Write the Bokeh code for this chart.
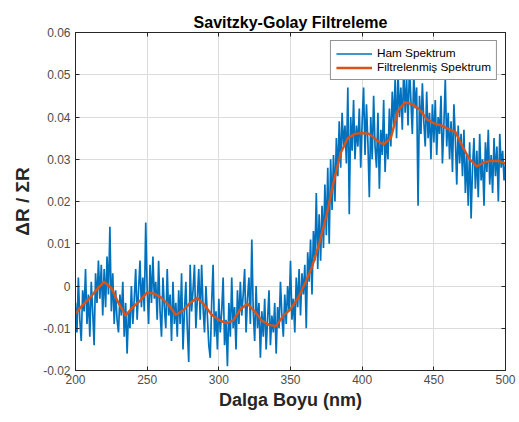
import numpy as np
from bokeh.plotting import figure
from bokeh.models import (ColumnDataSource, FixedTicker, CustomJSTickFormatter,
                          LinearAxis, Range1d, Legend, LegendItem)
from bokeh.embed import file_html
from bokeh.resources import INLINE

# ---- data ----
wavelength_raw = list(range(200, 501))  # nm, 1 nm step
raw_spectrum = [
    -0.004, -0.011, 0.002, -0.008, -0.013, -0.001, -0.006, 0.004, -0.009, -0.002,
    -0.012, 0.001, -0.006, -0.014, 0.003, -0.004, 0.006, -0.003, 0.005, -0.007,
    0.004, -0.005, 0.007, -0.002, 0.014, -0.006, 0.003, -0.009, -0.001, -0.008,
    -0.011, -0.002, -0.007, 0.001, -0.012, -0.004, -0.016, -0.006, -0.010, 0.000,
    -0.009, -0.003, 0.004, -0.008, -0.001, 0.006, -0.005, 0.002, -0.006, 0.015,
    -0.001, -0.009, 0.005, -0.004, 0.007, -0.003, 0.001, -0.008, 0.006, -0.006,
    -0.012, 0.002, -0.005, -0.010, 0.004, -0.007, -0.002, -0.013, 0.001, -0.009,
    -0.004, -0.012, -0.001, -0.009, 0.003, -0.015, -0.006, 0.001, -0.010, -0.018,
    0.005, -0.006, -0.001, 0.005, -0.010, -0.003, 0.004, -0.008, 0.005, -0.005,
    -0.011, 0.000, -0.007, -0.014, -0.017, -0.004, 0.005, -0.012, -0.006, -0.015,
    -0.003, -0.011, -0.006, 0.002, -0.014, -0.008, -0.019, -0.004, -0.012, 0.002,
    -0.010, -0.005, -0.015, -0.001, -0.009, 0.001, -0.007, -0.002, 0.004, -0.011,
    -0.003, 0.002, -0.009, 0.011, -0.006, -0.013, 0.000, -0.010, -0.004, -0.017,
    -0.006, -0.012, -0.003, -0.015, -0.008, -0.001, -0.014, -0.007, -0.011, -0.004,
    -0.016, -0.005, -0.010, 0.001, -0.007, -0.012, -0.002, -0.009, 0.000, -0.006,
    0.006, -0.008, -0.003, -0.011, 0.002, -0.005, 0.004, -0.007, 0.003, -0.002,
    0.005, -0.010, 0.008, 0.001, 0.011, -0.002, 0.013, 0.006, 0.022, 0.004,
    0.017, 0.006, 0.019, 0.009, 0.024, 0.012, 0.028, 0.010, 0.030, 0.018,
    0.031, 0.020, 0.035, 0.026, 0.039, 0.028, 0.041, 0.033, 0.038, 0.029,
    0.047, 0.017, 0.040, 0.032, 0.044, 0.030, 0.038, 0.033, 0.042, 0.028,
    0.039, 0.047, 0.031, 0.043, 0.034, 0.021, 0.040, 0.030, 0.045, 0.033,
    0.028, 0.041, 0.023, 0.037, 0.031, 0.044, 0.027, 0.036, 0.030, 0.042,
    0.033, 0.046, 0.038, 0.049, 0.035, 0.051, 0.040, 0.047, 0.037, 0.052,
    0.041, 0.049, 0.038, 0.052, 0.044, 0.036, 0.050, 0.042, 0.047, 0.019,
    0.045, 0.036, 0.048, 0.039, 0.033, 0.046, 0.035, 0.041, 0.030, 0.043,
    0.034, 0.044, 0.031, 0.040, 0.036, 0.045, 0.029, 0.038, 0.049, 0.033,
    0.041, 0.030, 0.039, 0.027, 0.043, 0.035, 0.024, 0.038, 0.029, 0.036,
    0.026, 0.037, 0.022, 0.031, 0.019, 0.034, 0.016, 0.028, 0.035, 0.023,
    0.032, 0.021, 0.036, 0.025, 0.030, 0.019, 0.034, 0.027, 0.037, 0.024,
    0.031, 0.022, 0.035, 0.026, 0.033, 0.020, 0.036, 0.028, 0.032, 0.025,
    0.029,
]

wavelength_filt = list(range(200, 501, 5))
filtered_spectrum = [
    -0.0065, -0.0045, -0.0028, -0.0008, 0.0010, -0.0005, -0.0040, -0.0070,
    -0.0050, -0.0035, -0.0015, -0.0018, -0.0028, -0.0045, -0.0068, -0.0058,
    -0.0040, -0.0028, -0.0045, -0.0068, -0.0080, -0.0088, -0.0082, -0.0055,
    -0.0042, -0.0060, -0.0082, -0.0092, -0.0095, -0.0070, -0.0055, -0.0030,
    0.0005, 0.0045, 0.0100, 0.0165, 0.0245, 0.0315, 0.0350, 0.0360,
    0.0362, 0.0360, 0.0345, 0.0335, 0.0350, 0.0415, 0.0435, 0.0430,
    0.0418, 0.0395, 0.0385, 0.0380, 0.0372, 0.0365, 0.0330, 0.0300,
    0.0283, 0.0293, 0.0296, 0.0296, 0.0290,
]

x_ticks = [200, 250, 300, 350, 400, 450, 500]
y_ticks = [-0.02, -0.01, 0.0, 0.01, 0.02, 0.03, 0.04, 0.05, 0.06]

title_text = "Savitzky-Golay Filtreleme"
x_label = "Dalga Boyu (nm)"
y_label = "\u0394R / \u03a3R"
series_names = ["Ham Spektrum", "Filtrelenmiş Spektrum"]

FONT = "Liberation Sans"
TICK_COLOR = "#4d4d4d"
BLUE = "#0072BD"
ORANGE = "#D95319"

p = figure(width=519, height=422, output_backend="svg", toolbar_location=None,
           x_range=Range1d(200, 500), y_range=Range1d(-0.02, 0.06),
           min_border_left=75, min_border_right=14, min_border_top=32,
           min_border_bottom=52)

p.title.text = title_text
p.title.text_font = FONT
p.title.text_font_size = "16px"
p.title.text_font_style = "bold"
p.title.align = "center"
p.title.text_color = "#000000"
p.title.offset = 0
p.title.standoff = 3

raw_src = ColumnDataSource(dict(x=wavelength_raw, y=raw_spectrum))
filt_src = ColumnDataSource(dict(x=wavelength_filt, y=filtered_spectrum))

r_raw = p.line("x", "y", source=raw_src, line_color=BLUE, line_width=1.7)
r_filt = p.line("x", "y", source=filt_src, line_color=ORANGE, line_width=2.4,
                line_join="round")

# axes styling
fmt = CustomJSTickFormatter(code="return (Math.round(tick*100)/100).toString();")
p.xaxis.ticker = FixedTicker(ticks=x_ticks)
p.yaxis.ticker = FixedTicker(ticks=y_ticks)
p.yaxis.formatter = fmt
for ax in (p.xaxis[0], p.yaxis[0]):
    ax.axis_line_color = "#262626"
    ax.major_tick_line_color = "#262626"
    ax.major_tick_in = 4
    ax.major_tick_out = 0
    ax.minor_tick_line_color = None
    ax.major_label_text_font = FONT
    ax.major_label_text_font_size = "12px"
    ax.major_label_text_color = TICK_COLOR
    ax.axis_label_text_font = FONT
    ax.axis_label_text_font_style = "bold"
    ax.axis_label_text_color = "#262626"

p.xaxis.axis_label = x_label
p.xaxis.axis_label_text_font_size = "18px"
p.xaxis.major_label_standoff = 4
p.xaxis.axis_label_standoff = 3
p.yaxis.axis_label = y_label
p.yaxis.axis_label_text_font_size = "19px"
p.yaxis.major_label_standoff = 5
p.yaxis.axis_label_standoff = 7

# box ticks on top/right (no labels)
blank = CustomJSTickFormatter(code="return '';")
top_ax = LinearAxis(ticker=FixedTicker(ticks=x_ticks), formatter=blank,
                    major_tick_in=4, major_tick_out=0, minor_tick_line_color=None,
                    axis_line_color="#262626", major_tick_line_color="#262626",
                    major_label_standoff=0)
right_ax = LinearAxis(ticker=FixedTicker(ticks=y_ticks), formatter=blank,
                      major_tick_in=4, major_tick_out=0, minor_tick_line_color=None,
                      axis_line_color="#262626", major_tick_line_color="#262626",
                      major_label_standoff=0)
p.add_layout(top_ax, "above")
p.add_layout(right_ax, "right")

p.outline_line_color = "#262626"
p.xgrid.grid_line_color = "#dcdcdc"
p.ygrid.grid_line_color = "#dcdcdc"
p.xgrid.ticker = FixedTicker(ticks=x_ticks)
p.ygrid.ticker = FixedTicker(ticks=y_ticks)

legend = Legend(items=[LegendItem(label=series_names[0], renderers=[r_raw]),
                       LegendItem(label=series_names[1], renderers=[r_filt])],
                location="top_right")
legend.label_text_font = FONT
legend.label_text_font_size = "11.8px"
legend.label_text_color = "#000000"
legend.glyph_width = 36
legend.glyph_height = 13
legend.label_height = 13
legend.label_standoff = 5
legend.spacing = 0
legend.padding = 5
legend.margin = 8
legend.border_line_color = "#262626"
legend.border_line_width = 1
legend.background_fill_alpha = 1
p.add_layout(legend)

open("out.html", "w").write(file_html(p, INLINE))
